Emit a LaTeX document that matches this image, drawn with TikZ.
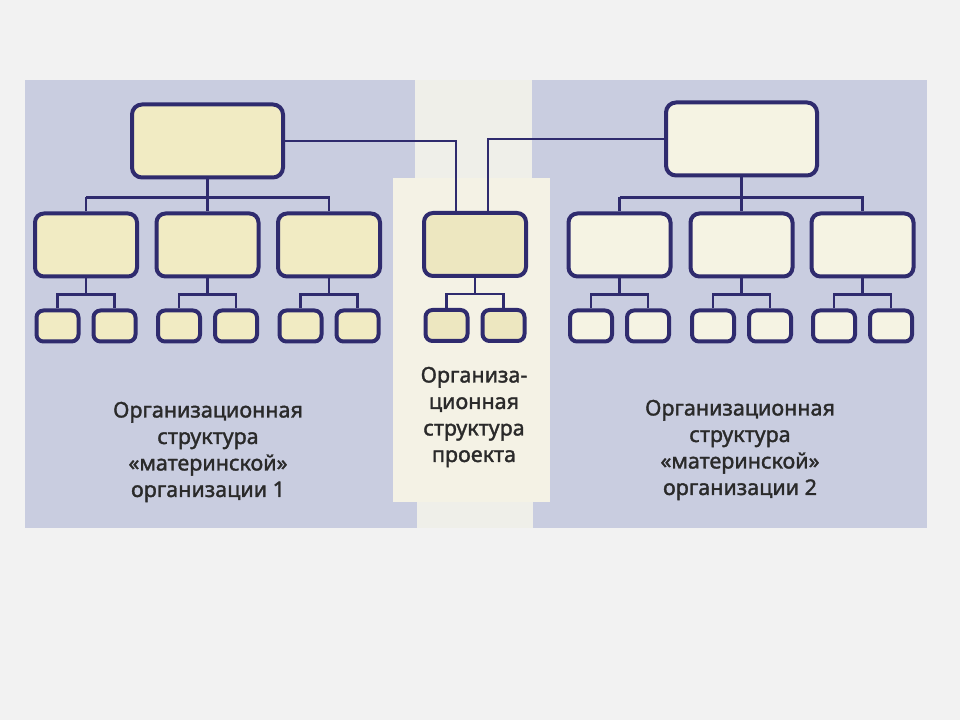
\documentclass[tikz,border=0pt]{standalone}
\usepackage{fontspec}
\setmainfont{Noto Sans}
\newfontfamily\capfont{Noto Sans}[FakeBold=1.6]
\usepackage{tikz}
\usetikzlibrary{positioning}
\definecolor{canvas}{HTML}{F2F2F2}
\definecolor{panel}{HTML}{C9CDE0}
\definecolor{column}{HTML}{F4F2E5}
\definecolor{columntop}{HTML}{EFEFE9}
\definecolor{boxA}{HTML}{F1EBC3}
\definecolor{boxB}{HTML}{F5F3E3}
\definecolor{boxP}{HTML}{EDE7C0}
\definecolor{navy}{HTML}{2F2B6E}
\definecolor{ink}{HTML}{2A2A2A}
\begin{document}
\begin{tikzpicture}
  [
    x=1pt,y=1pt,
    head/.style={rectangle,rounded corners=10pt,draw=navy,line width=4pt,minimum width=151pt,minimum height=73pt,inner sep=0pt},
    unit/.style={rectangle,rounded corners=9pt,draw=navy,line width=4pt,minimum width=102pt,minimum height=63pt,inner sep=0pt},
    leaf/.style={rectangle,rounded corners=7pt,draw=navy,line width=4pt,minimum width=42pt,minimum height=31pt,inner sep=0pt},
    link/.style={draw=navy,line width=2.5pt},
    caption/.style={align=center,text=ink,font=\capfont\fontsize{21.5}{26.5}\selectfont}
  ]
  % background
  \fill[canvas] (0,0) rectangle (960,720);
  \fill[panel] (25,192) rectangle (927,640);
  \fill[columntop] (415,542) rectangle (532,640);
  \fill[column] (393,218) rectangle (550,542);
  \fill[columntop] (417,192) rectangle (533,218);
  % top boxes
  \node[head,fill=boxA] (org1) at (207.5,579) {};
  \node[head,fill=boxB] (org2) at (741.5,581) {};
  \node[unit,fill=boxP] (proj) at (475,475.5) {};
  \node[unit,fill=boxA] (u11) [below = 32pt of org1, xshift=-121.5pt] {};
  \node[unit,fill=boxA] (u12) [below = 32pt of org1] {};
  \node[unit,fill=boxA] (u13) [below = 32pt of org1, xshift=121.5pt] {};
  \node[unit,fill=boxB] (u21) [below = 34pt of org2, xshift=-122pt] {};
  \node[unit,fill=boxB] (u22) [below = 34pt of org2] {};
  \node[unit,fill=boxB] (u23) [below = 34pt of org2, xshift=121pt] {};
  % links to the project
  \draw[link] (org1.east) -| ([xshift=-19pt]proj.north);
  \draw[link] (org2.west) -| ([xshift=13pt]proj.north);
  % buses under the heads
  \foreach \o/\a/\b/\c in {org1/u11/u12/u13,org2/u21/u22/u23} {
    \draw[link] (\a.north) -- ++(0,14) coordinate (\o-bus);
    \draw[link] (\o-bus) -| (\c.north);
    \draw[link] (\o.south) -- (\o.south |- \o-bus) -- (\b.north);
  }
  % small boxes
  \foreach \u/\f in {u11/boxA,u12/boxA,u13/boxA,proj/boxP,u21/boxB,u22/boxB,u23/boxB} {
    \node[leaf,fill=\f] (\u-l) [below = 30pt of \u, xshift=-28.5pt] {};
    \node[leaf,fill=\f] (\u-r) [below = 30pt of \u, xshift=28.5pt] {};
    \draw[link] (\u.south) -- ++(0,-16) coordinate (\u-bus);
    \draw[link] (\u-l.north) |- (\u-bus) -| (\u-r.north);
  }
  % captions
  \node[caption] (cap1) at (208,268) {Организационная\\структура\\«материнской»\\организации 1};
  \node[caption] (capp) at (474,303) {Организа-\\ционная\\структура\\проекта};
  \node[caption] (cap2) at (740,270) {Организационная\\структура\\«материнской»\\организации 2};
\end{tikzpicture}
\end{document}
